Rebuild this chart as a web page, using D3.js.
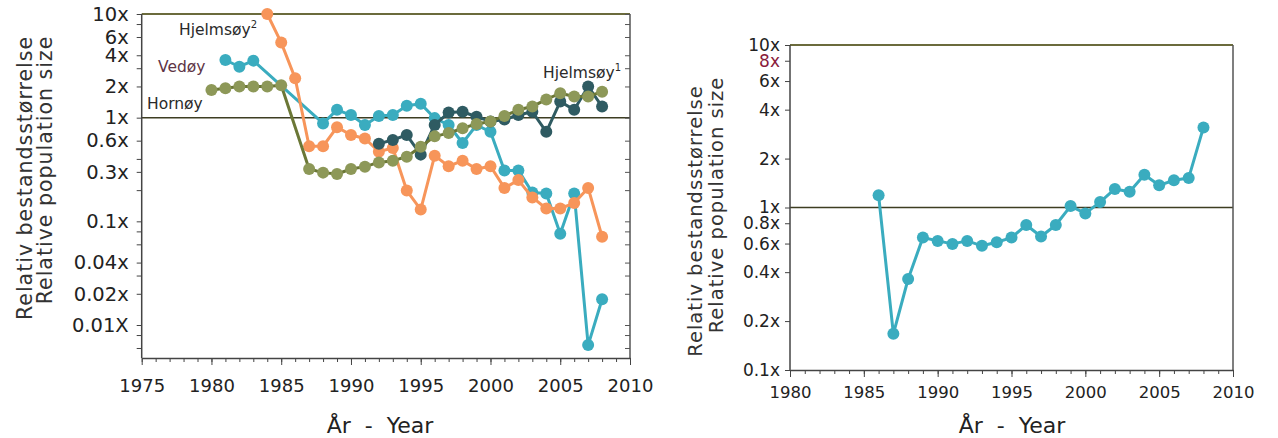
<!DOCTYPE html>
<html>
<head>
<meta charset="utf-8">
<script src="https://cdn.jsdelivr.net/npm/d3@7"></script>
<style>
  body { margin: 0; background: #fff; }
  svg { display: block; font-family: "DejaVu Sans", Verdana, sans-serif; }
</style>
</head>
<body>
<div id="chart"></div>
<script>
// left panel series
var vedoyYears = [1981,1982,1983,1988,1989,1990,1991,1992,1993,1994,1995,1996,1997,1998,1999,2000,2001,2002,2003,2004,2005,2006,2007,2008];
var vedoyValues = [3.6,3.1,3.55,0.88,1.19,1.06,0.85,1.04,1.06,1.3,1.36,0.99,0.85,0.57,0.85,0.73,0.31,0.31,0.19,0.186,0.076,0.186,0.0064,0.0177];

var hjelm2Years = d3.range(1984, 2009);
var hjelm2Values = [10,5.3,2.4,0.53,0.53,0.81,0.68,0.63,0.47,0.51,0.198,0.13,0.43,0.34,0.385,0.32,0.34,0.21,0.25,0.17,0.133,0.133,0.15,0.21,0.071];

var hornoyYears = [1980,1981,1982,1983,1984,1985].concat(d3.range(1987, 2009));
var hornoyValues = [1.85,1.92,2.0,2.0,2.0,2.05,0.32,0.295,0.286,0.32,0.337,0.37,0.385,0.42,0.525,0.66,0.71,0.79,0.87,0.92,1.04,1.19,1.28,1.5,1.72,1.6,1.6,1.78];

var hjelm1Years = d3.range(1992, 2009);
var hjelm1Values = [0.56,0.61,0.68,0.44,0.85,1.12,1.14,1.02,0.92,0.96,1.06,1.14,0.73,1.43,1.19,2.0,1.28];

// right panel series
var rightYears = d3.range(1986, 2009);
var rightValues = [1.19,0.167,0.363,0.653,0.623,0.597,0.623,0.581,0.611,0.653,0.78,0.663,0.78,1.02,0.92,1.08,1.30,1.25,1.59,1.37,1.47,1.52,3.11];

// tick labels
var leftYTicks = [10,8,6,4,3,2,1,0.6,0.4,0.3,0.2,0.1,0.08,0.06,0.04,0.03,0.02,0.01,0.008,0.006];
var leftYLabels = {10:"10x",6:"6x",4:"4x",2:"2x",1:"1x",0.6:"0.6x",0.3:"0.3x",0.1:"0.1x",0.04:"0.04x",0.02:"0.02x",0.01:"0.01X"};
var rightYTicks = [10,8,6,4,2,1,0.8,0.6,0.4,0.2,0.1];
var rightYLabels = {10:"10x",8:"8x",6:"6x",4:"4x",2:"2x",1:"1x",0.8:"0.8x",0.6:"0.6x",0.4:"0.4x",0.2:"0.2x",0.1:"0.1x"};

var teal = "#3aacbf", orange = "#f7955a", olive = "#8d9858", oliveLine = "#6b7736", slate = "#2f5b62";

var svg = d3.select("#chart").append("svg")
  .attr("width", 1278)
  .attr("height", 438);

function zip(years, values) {
  return years.map(function(y, i) { return {year: y, value: values[i]}; });
}

function drawSeries(g, x, y, data, lineColour, dotColour) {
  var line = d3.line()
    .x(function(d) { return x(d.year); })
    .y(function(d) { return y(d.value); });
  g.append("path")
    .datum(data)
    .attr("fill", "none")
    .attr("stroke", lineColour)
    .attr("stroke-width", 3)
    .attr("stroke-linejoin", "round")
    .attr("d", line);
  g.selectAll(null)
    .data(data)
    .enter().append("circle")
      .attr("cx", function(d) { return x(d.year); })
      .attr("cy", function(d) { return y(d.value); })
      .attr("r", 6)
      .attr("fill", dotColour);
}

function frame(g, x, y, opt) {
  // horizontal line at 1x
  g.append("line")
    .attr("x1", opt.left).attr("x2", opt.right)
    .attr("y1", y(1)).attr("y2", y(1))
    .attr("stroke", "#3d3d22").attr("stroke-width", 1.5);

  // top and right borders
  g.append("line")
    .attr("x1", opt.left).attr("x2", opt.right).attr("y1", opt.top).attr("y2", opt.top)
    .attr("stroke", "#6b6b3c").attr("stroke-width", 2);
  g.append("line")
    .attr("x1", opt.right).attr("x2", opt.right).attr("y1", opt.top).attr("y2", opt.bottom)
    .attr("stroke", "#555").attr("stroke-width", 1.5);

  // bottom axis: minor ticks every year, major every five
  var minor = g.append("g")
    .attr("transform", "translate(0," + opt.bottom + ")")
    .call(d3.axisBottom(x).tickValues(d3.range(opt.x0, opt.x1 + 1)).tickSize(4).tickFormat(""));
  minor.select(".domain").remove();
  minor.selectAll("line").attr("stroke", "#444");

  var major = g.append("g")
    .attr("transform", "translate(0," + opt.bottom + ")")
    .call(d3.axisBottom(x).tickValues(d3.range(opt.x0, opt.x1 + 1, 5)).tickSize(7).tickSizeOuter(0).tickFormat(d3.format("d")));
  major.select(".domain").attr("stroke", "#444").attr("stroke-width", 1.5);
  major.selectAll("line").attr("stroke", "#444");
  major.selectAll("text")
    .attr("y", opt.yearY)
    .attr("font-size", opt.yearSize)
    .attr("font-family", "DejaVu Sans, sans-serif")
    .attr("fill", "#222");

  // left axis
  var yl = g.append("g")
    .attr("transform", "translate(" + opt.left + ",0)")
    .call(d3.axisLeft(y).tickValues(opt.yTicks).tickSize(5).tickSizeOuter(0)
      .tickFormat(function(d) { return opt.yLabels[d] || ""; }));
  yl.select(".domain").attr("stroke", "#444").attr("stroke-width", 1.5)
    .attr("d", "M0," + opt.top + "V" + opt.bottom);
  yl.selectAll("line").attr("stroke", "#444");
  yl.selectAll("text")
    .attr("x", opt.labelX)
    .attr("font-size", opt.labelSize)
    .attr("font-family", "DejaVu Sans, sans-serif")
    .attr("fill", function(d) { return d === 8 ? "#8a1c3c" : "#222"; });

  if (opt.inwardRight) {
    var yr = g.append("g")
      .attr("transform", "translate(" + opt.right + ",0)")
      .call(d3.axisLeft(y).tickValues(opt.yTicks).tickSize(5).tickFormat(""));
    yr.select(".domain").remove();
    yr.selectAll("line").attr("stroke", "#555");
  }
}

function titles(g, t) {
  g.append("text")
    .attr("transform", "translate(" + t.x1 + "," + t.cy1 + ") rotate(-90)")
    .attr("text-anchor", "middle")
    .attr("font-size", t.size)
    .attr("letter-spacing", t.spacing)
    .attr("fill", "#333")
    .text("Relativ bestandsstørrelse");
  g.append("text")
    .attr("transform", "translate(" + t.x2 + "," + t.cy2 + ") rotate(-90)")
    .attr("text-anchor", "middle")
    .attr("font-size", t.size)
    .attr("letter-spacing", t.spacing)
    .attr("fill", "#333")
    .text("Relative population size");
  g.append("text")
    .attr("x", t.cx).attr("y", 433)
    .attr("text-anchor", "middle")
    .attr("font-size", 22)
    .attr("fill", "#222")
    .style("white-space", "pre")
    .text("År  -  Year");
}

// ---------- left panel ----------
var L = {left: 141.7, right: 630, top: 14, bottom: 358};
var xL = d3.scaleLinear().domain([1975, 2010]).range([L.left, L.right]);
var yL = d3.scaleLog().domain([0.01, 10]).range([325, L.top]);
var gL = svg.append("g");

frame(gL, xL, yL, {left: L.left, right: L.right, top: L.top, bottom: L.bottom, x0: 1975, x1: 2010,
  yTicks: leftYTicks, yLabels: leftYLabels, labelSize: 19.5, labelX: -13, yearSize: 18, yearY: 21, inwardRight: true});
titles(gL, {x1: 32, x2: 52, cy1: 178, cy2: 170, size: 20.5, spacing: 1, cx: 380});

drawSeries(gL, xL, yL, zip(vedoyYears, vedoyValues), teal, teal);
drawSeries(gL, xL, yL, zip(hjelm2Years, hjelm2Values), orange, orange);
drawSeries(gL, xL, yL, zip(hjelm1Years, hjelm1Values), slate, slate);
drawSeries(gL, xL, yL, zip(hornoyYears, hornoyValues), oliveLine, olive);

function seriesLabel(g, x, y, name, sup, colour) {
  var t = g.append("text")
    .attr("x", x).attr("y", y)
    .attr("font-size", 15.5)
    .attr("fill", colour)
    .text(name);
  if (sup) {
    t.append("tspan").attr("dy", -7).attr("font-size", 10).text(sup);
  }
}
seriesLabel(gL, 179, 35, "Hjelmsøy", "2", "#2a2a2a");
seriesLabel(gL, 158, 72, "Vedøy", null, "#5e3446");
seriesLabel(gL, 147, 109, "Hornøy", null, "#2a2a2a");
seriesLabel(gL, 543, 78, "Hjelmsøy", "1", "#2a2a2a");

// ---------- right panel ----------
var R = {left: 790, right: 1233, top: 45, bottom: 370};
var xR = d3.scaleLinear().domain([1980, 2010]).range([R.left, R.right]);
var yR = d3.scaleLog().domain([0.1, 10]).range([R.bottom, R.top]);
var gR = svg.append("g");

frame(gR, xR, yR, {left: R.left, right: R.right, top: R.top, bottom: R.bottom, x0: 1980, x1: 2010,
  yTicks: rightYTicks, yLabels: rightYLabels, labelSize: 17, labelX: -10, yearSize: 16.5, yearY: 16, inwardRight: false});
titles(gR, {x1: 702, x2: 723, cy1: 221, cy2: 205, size: 19.5, spacing: 1, cx: 1012});

drawSeries(gR, xR, yR, zip(rightYears, rightValues), teal, teal);
</script>
</body>
</html>
